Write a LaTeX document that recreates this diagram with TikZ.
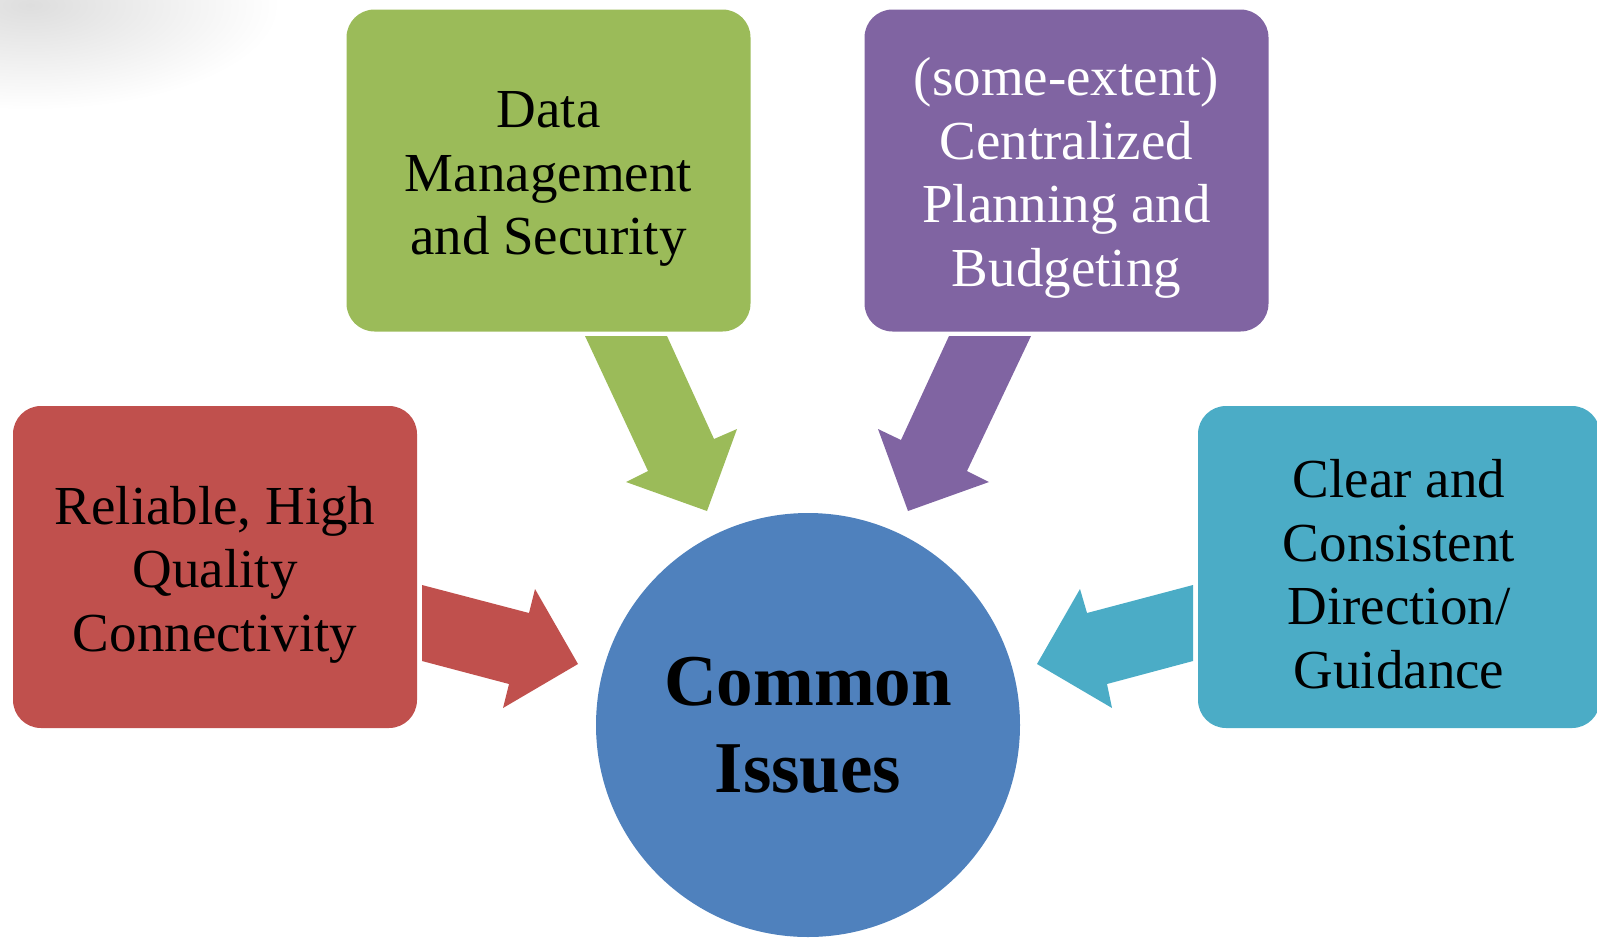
\documentclass[tikz,border=0pt]{standalone}
\usepackage{fontspec}
\setmainfont{Liberation Serif}
\definecolor{redbox}{HTML}{C0504D}
\definecolor{greenbox}{HTML}{9BBB59}
\definecolor{purplebox}{HTML}{8064A2}
\definecolor{aquabox}{HTML}{4BACC6}
\definecolor{bluecircle}{HTML}{4F81BD}
\newcommand{\boxstrut}{\rule{0pt}{53pt}}
\begin{document}
\begin{tikzpicture}[x=1pt, y=-1pt]
		\tikzstyle{box} = [rectangle, rounded corners=28pt, minimum width=404pt, minimum height=322pt, align=center, font=\fontsize{55}{63.5}\selectfont]
		\tikzstyle{hub} = [circle, fill=bluecircle, minimum size=424pt, align=center, font=\fontsize{73}{87}\selectfont\bfseries]
		\useasboundingbox (0,0) rectangle (1597,937);
		\clip (0,0) rectangle (1597,937);
		\shade[inner color=black!13, outer color=white] (30,5) ellipse [x radius=250, y radius=105];
		\node[box, fill=redbox](R) at (215,567) {\boxstrut Reliable, High\\Quality\\Connectivity};
		\node[box, fill=greenbox](G) at (548.5,170.5) {\boxstrut Data\\Management\\and Security};
		\node[box, fill=purplebox, text=white](P) at (1066.5,170.5) {\boxstrut(some-extent)\\Centralized\\Planning and\\Budgeting};
		\node[box, fill=aquabox, minimum width=402pt](A) at (1399,567) {\boxstrut Clear and\\Consistent\\Direction/\\Guidance};
		\node[hub](C) at (808,725) {Common\\Issues};
		\fill[redbox] (422,585) -- (529,613) -- (535,589) -- (578,664) -- (503,708) -- (509,684) -- (422,661) -- cycle;
		\fill[greenbox] (585,336) -- (667,336) -- (714,439) -- (737,429) -- (707,511) -- (626,482) -- (648,471) -- cycle;
		\fill[purplebox] (1031,336) -- (949,336) -- (901,440) -- (878,429) -- (908,511) -- (989,482) -- (967,471) -- cycle;
		\fill[aquabox] (1193,585) -- (1087,613) -- (1080,589) -- (1037,664) -- (1112,708) -- (1107,684) -- (1193,661) -- cycle;
	\end{tikzpicture}
\end{document}
